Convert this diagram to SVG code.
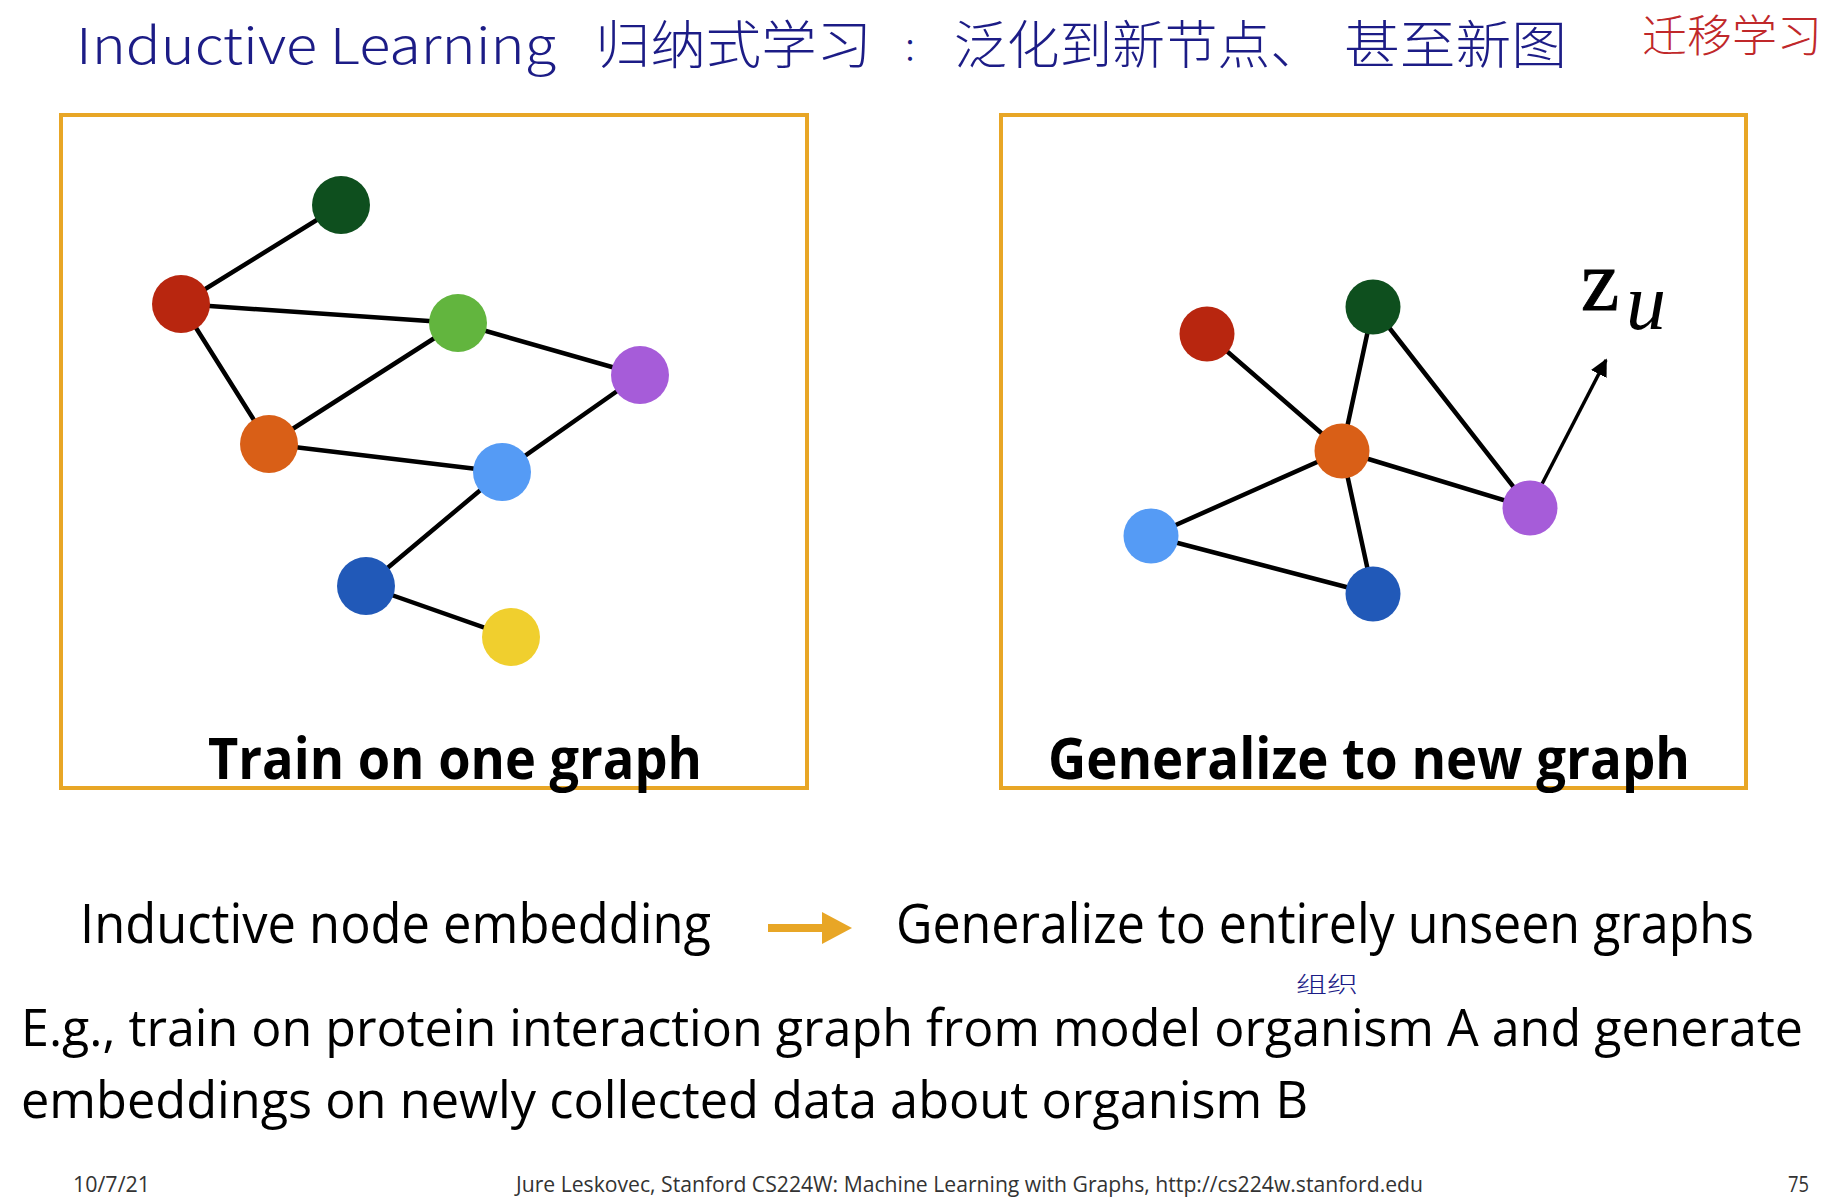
<svg xmlns="http://www.w3.org/2000/svg" width="1836" height="1198" viewBox="0 0 1836 1198">
<defs>
<style>
.hand{font-family:"Noto Sans CJK SC","Noto Sans",sans-serif;fill:#1c1c86;font-weight:300}
.red{fill:#c0282a}
.box{fill:none;stroke:#E8A626;stroke-width:4}
.edge{stroke:#000;stroke-width:4.5;stroke-linecap:round}
.lbl{font-family:"Open Sans","Noto Sans",sans-serif;font-weight:700;fill:#000}
.body{font-family:"Open Sans","Noto Sans",sans-serif;fill:#000}
.foot{font-family:"Open Sans","Noto Sans",sans-serif;fill:#333;font-size:22px}
</style>
<marker id="ah" viewBox="0 0 10 10" refX="9" refY="5" markerWidth="5" markerHeight="5" orient="auto" markerUnits="strokeWidth">
<path d="M0,0 L10,5 L0,10 z" fill="#000"/>
</marker>
</defs>
<rect width="1836" height="1198" fill="#fff"/>

<g id="title">
<text class="hand" x="76" y="64" font-size="50" textLength="480" lengthAdjust="spacingAndGlyphs">Inductive Learning</text>
<text class="hand" x="595" y="64" font-size="52" textLength="277" lengthAdjust="spacingAndGlyphs">归纳式学习</text>
<text class="hand" x="905" y="60" font-size="40">:</text>
<text class="hand" x="954" y="64" font-size="52" textLength="369" lengthAdjust="spacingAndGlyphs">泛化到新节点、</text>
<text class="hand" x="1344" y="64" font-size="52" textLength="223" lengthAdjust="spacingAndGlyphs">甚至新图</text>
<text class="hand red" x="1642" y="52" font-size="44" textLength="180" lengthAdjust="spacingAndGlyphs">迁移学习</text>
</g>

<g id="panel-left">
<rect class="box" x="61" y="115" width="746" height="673"/>
<g id="edges-left">
<line class="edge" x1="341" y1="205" x2="181" y2="304"/>
<line class="edge" x1="181" y1="304" x2="458" y2="323"/>
<line class="edge" x1="181" y1="304" x2="269" y2="444"/>
<line class="edge" x1="269" y1="444" x2="458" y2="323"/>
<line class="edge" x1="458" y1="323" x2="640" y2="375"/>
<line class="edge" x1="269" y1="444" x2="502" y2="472"/>
<line class="edge" x1="502" y1="472" x2="640" y2="375"/>
<line class="edge" x1="502" y1="472" x2="366" y2="586"/>
<line class="edge" x1="366" y1="586" x2="511" y2="637"/>
</g>
<g id="nodes-left">
<circle id="L-darkgreen" cx="341" cy="205" r="29" fill="#0E4F1E"/>
<circle id="L-red" cx="181" cy="304" r="29" fill="#B8260F"/>
<circle id="L-green" cx="458" cy="323" r="29" fill="#62B53E"/>
<circle id="L-purple" cx="640" cy="375" r="29" fill="#A65CD9"/>
<circle id="L-orange" cx="269" cy="444" r="29" fill="#D95F17"/>
<circle id="L-lightblue" cx="502" cy="472" r="29" fill="#559BF5"/>
<circle id="L-blue" cx="366" cy="586" r="29" fill="#2159B8"/>
<circle id="L-yellow" cx="511" cy="637" r="29" fill="#F0CF2E"/>
</g>
<text class="lbl" x="455" y="779" font-size="58" text-anchor="middle" textLength="494" lengthAdjust="spacingAndGlyphs">Train on one graph</text>
</g>

<g id="panel-right">
<rect class="box" x="1001" y="115" width="745" height="673"/>
<g id="edges-right">
<line class="edge" x1="1207" y1="334" x2="1342" y2="451"/>
<line class="edge" x1="1373" y1="307" x2="1342" y2="451"/>
<line class="edge" x1="1373" y1="307" x2="1530" y2="508"/>
<line class="edge" x1="1342" y1="451" x2="1530" y2="508"/>
<line class="edge" x1="1342" y1="451" x2="1151" y2="536"/>
<line class="edge" x1="1342" y1="451" x2="1373" y2="594"/>
<line class="edge" x1="1151" y1="536" x2="1373" y2="594"/>
<line x1="1542" y1="484" x2="1606" y2="360" stroke="#000" stroke-width="3.5" marker-end="url(#ah)"/>
</g>
<g id="nodes-right">
<circle id="R-red" cx="1207" cy="334" r="27.5" fill="#B8260F"/>
<circle id="R-darkgreen" cx="1373" cy="307" r="27.5" fill="#0E4F1E"/>
<circle id="R-orange" cx="1342" cy="451" r="27.5" fill="#D95F17"/>
<circle id="R-lightblue" cx="1151" cy="536" r="27.5" fill="#559BF5"/>
<circle id="R-blue" cx="1373" cy="594" r="27.5" fill="#2159B8"/>
<circle id="R-purple" cx="1530" cy="508" r="27.5" fill="#A65CD9"/>
</g>
<text x="1581" y="310" font-family="Liberation Serif,serif" font-size="86" fill="#000" stroke="#000" stroke-width="1">z</text>
<text x="1626" y="329" font-family="Liberation Serif,serif" font-size="80" font-style="italic" fill="#000">u</text>
<text class="lbl" x="1369" y="779" font-size="58" text-anchor="middle" textLength="642" lengthAdjust="spacingAndGlyphs">Generalize to new graph</text>
</g>

<g id="summary">
<text class="body" x="80" y="943" font-size="54" textLength="631" lengthAdjust="spacingAndGlyphs">Inductive node embedding</text>
<path d="M768,924 L822,924 L822,912 L852,928 L822,944 L822,932 L768,932 z" fill="#E8A626"/>
<text class="body" x="896" y="943" font-size="54" textLength="858" lengthAdjust="spacingAndGlyphs">Generalize to entirely unseen graphs</text>
</g>

<g id="example">
<text class="hand" x="1296" y="992" font-size="22" textLength="62" lengthAdjust="spacingAndGlyphs">组织</text>
<text class="body" x="21" y="1046" font-size="52" textLength="1782" lengthAdjust="spacingAndGlyphs">E.g., train on protein interaction graph from model organism A and generate</text>
<text class="body" x="21" y="1118" font-size="52" textLength="1287" lengthAdjust="spacingAndGlyphs">embeddings on newly collected data about organism B</text>
</g>

<g id="footer">
<text class="foot" x="73" y="1192" textLength="77" lengthAdjust="spacingAndGlyphs">10/7/21</text>
<text class="foot" x="516" y="1192" textLength="907" lengthAdjust="spacingAndGlyphs">Jure Leskovec, Stanford CS224W: Machine Learning with Graphs, http://cs224w.stanford.edu</text>
<text class="foot" x="1788" y="1192" textLength="21" lengthAdjust="spacingAndGlyphs">75</text>
</g>
</svg>
